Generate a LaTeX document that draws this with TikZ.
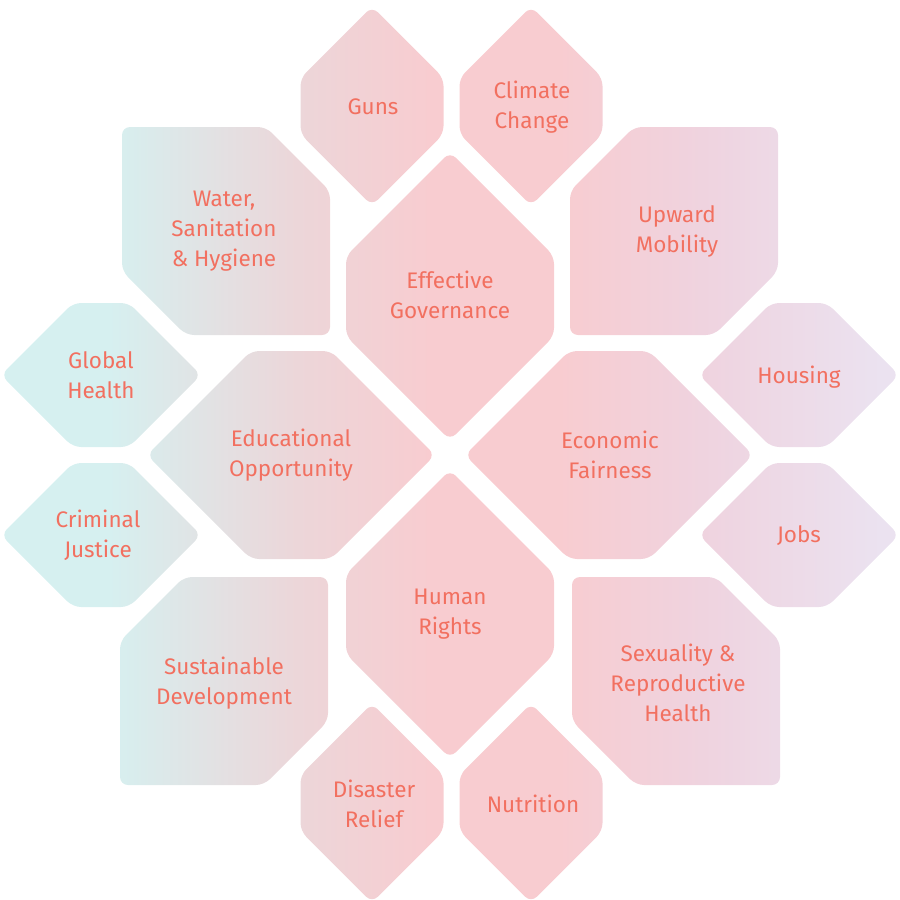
\documentclass[tikz,border=0pt]{standalone}
\usepackage{fontspec}
\setmainfont{Fira Sans}

\definecolor{tealtile}{RGB}{214,240,240}
\definecolor{greytile}{RGB}{236,214,217}
\definecolor{pinktile}{RGB}{248,204,208}
\definecolor{mauvetile}{RGB}{239,211,223}
\definecolor{lilactile}{RGB}{235,226,240}
\definecolor{labeltext}{RGB}{242,112,96}

% the picture's width maps to 25bp .. 75bp of the shading
\pgfdeclarehorizontalshading{tilefade}{100bp}{color(0bp)=(tealtile); color(31bp)=(tealtile); color(41.5bp)=(greytile); color(49bp)=(pinktile); color(56bp)=(pinktile); color(64bp)=(mauvetile); color(74bp)=(lilactile); color(100bp)=(lilactile)}

% pointy top and bottom: centre x, centre y, half width, half side
\newcommand{\tallhex}[4]{(#1,#2-#3-#4) -- (#1+#3,#2-#4) -- (#1+#3,#2+#4) -- (#1,#2+#3+#4) -- (#1-#3,#2+#4) -- (#1-#3,#2-#4) -- cycle}
% pointy left and right
\newcommand{\widehex}[4]{(#1-#3-#4,#2) -- (#1-#4,#2-#3) -- (#1+#4,#2-#3) -- (#1+#3+#4,#2) -- (#1+#4,#2+#3) -- (#1-#4,#2+#3) -- cycle}
% square with top right and bottom left cut off
\newcommand{\slashtile}[4]{(#1-#3,#2-#3) -- (#1+#3-#4,#2-#3) -- (#1+#3,#2-#3+#4) -- (#1+#3,#2+#3) -- (#1-#3+#4,#2+#3) -- (#1-#3,#2+#3-#4) -- cycle}
% square with top left and bottom right cut off
\newcommand{\backtile}[4]{(#1-#3+#4,#2-#3) -- (#1+#3,#2-#3) -- (#1+#3,#2+#3-#4) -- (#1+#3-#4,#2+#3) -- (#1-#3,#2+#3) -- (#1-#3,#2-#3+#4) -- cycle}

\tikzset{tiletext/.style={text=labeltext, align=center, inner sep=0pt, font=\fontsize{22.5}{30}\selectfont}}

\begin{document}
\begin{tikzpicture}[x=1pt,y=-1pt]
	\useasboundingbox (0,0) rectangle (900,900);
	% tiles
	\begin{scope}
	\clip[rounded corners=8pt]
		\tallhex{372}{106}{71.5}{28} \tallhex{531}{106}{71.5}{28}
		\tallhex{372}{803}{71.5}{28} \tallhex{531}{803}{71.5}{28}
		\widehex{101}{375}{72}{28} \widehex{101}{535}{72}{28}
		\widehex{799}{375}{72}{28} \widehex{799}{535}{72}{28}
		\tallhex{450}{296}{104}{40} \tallhex{450}{614}{104}{40}
		\widehex{291}{455}{104}{40} \widehex{609}{455}{104}{40}
		\slashtile{226}{231}{104}{64} \backtile{674}{231}{104}{64}
		\backtile{224}{681}{104}{64} \slashtile{676}{681}{104}{64};
	\shade[shading=tilefade] (0,0) rectangle (900,900);
	\end{scope}
	% labels
	\node[tiletext] (guns) at (373,107) {Guns};
	\node[tiletext] (climate) at (532,107) {Climate\\Change};
	\node[tiletext] (water) at (224,231) {Water,\\Sanitation\\\& Hygiene};
	\node[tiletext] (upward) at (677,231) {Upward\\Mobility};
	\node[tiletext] (governance) at (450,295) {Effective\\Governance};
	\node[tiletext] (globalhealth) at (101,375) {Global\\Health};
	\node[tiletext] (housing) at (799,377) {Housing};
	\node[tiletext] (education) at (291,455) {Educational\\Opportunity};
	\node[tiletext] (economic) at (610,455) {Economic\\Fairness};
	\node[tiletext] (criminal) at (98,535) {Criminal\\Justice};
	\node[tiletext] (jobs) at (799,536) {Jobs};
	\node[tiletext] (humanrights) at (450,614) {Human\\Rights};
	\node[tiletext] (sustainable) at (224,683) {Sustainable\\Development};
	\node[tiletext] (sexuality) at (678,683) {Sexuality \&\\Reproductive\\Health};
	\node[tiletext] (disaster) at (374,804) {Disaster\\Relief};
	\node[tiletext] (nutrition) at (533,804) {Nutrition};
\end{tikzpicture}
\end{document}
